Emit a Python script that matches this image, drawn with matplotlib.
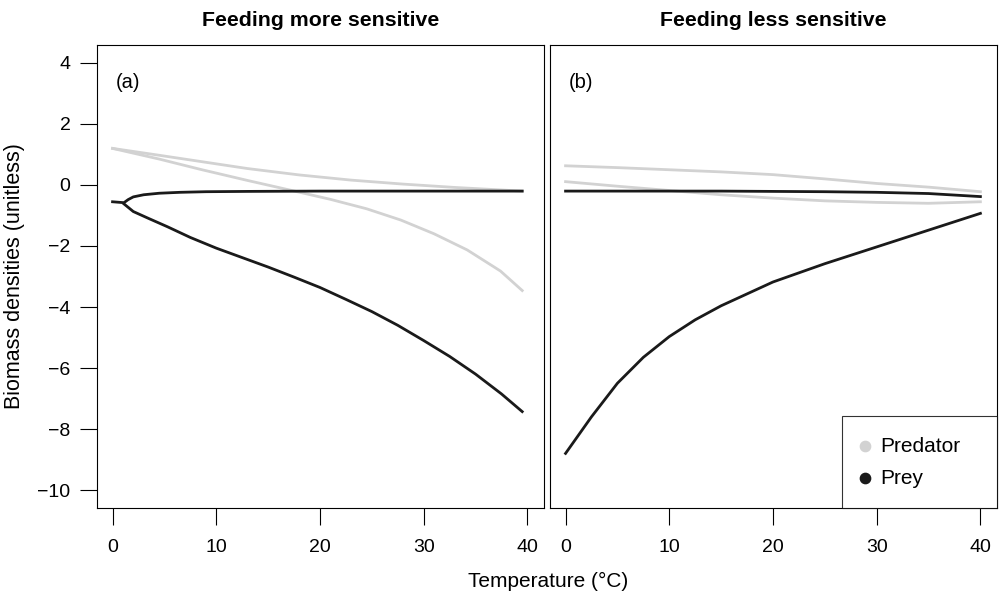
import numpy as np
import matplotlib.pyplot as plt

plt.rcParams['font.family'] = ['Liberation Sans', 'DejaVu Sans']

# panel (a): feeding more sensitive
temp_a_pred_up = [0, 4, 8.5, 13, 18, 23, 28, 33, 39.5]
pred_a_upper = [1.2, 1.0, 0.77, 0.54, 0.33, 0.16, 0.03, -0.08, -0.2]
temp_a_pred_low = [0, 4.5, 8.5, 13, 17.8, 21, 24.5, 27.8, 31, 34.2, 37.4, 39.5]
pred_a_lower = [1.2, 0.85, 0.51, 0.15, -0.22, -0.47, -0.78, -1.15, -1.6, -2.13, -2.82, -3.46]
temp_a_prey_up = [0, 1.1, 1.5, 2, 3, 4.5, 6.5, 9, 13, 20, 30, 39.5]
prey_a_upper = [-0.55, -0.58, -0.48, -0.39, -0.32, -0.27, -0.24, -0.22, -0.21, -0.2, -0.2, -0.2]
temp_a_prey_low = [1.1, 2, 3.5, 5.3, 7.5, 10, 12.5, 15, 17.5, 20, 22.5, 25, 27.5, 30, 32.5, 35, 37.5, 39.5]
prey_a_lower = [-0.62, -0.87, -1.1, -1.37, -1.72, -2.07, -2.38, -2.69, -3.02, -3.36, -3.75, -4.15,
                -4.6, -5.1, -5.62, -6.2, -6.85, -7.43]

# panel (b): feeding less sensitive
temp_b = [0, 5, 10, 15, 20, 25, 30, 35, 40]
pred_b_upper = [0.63, 0.57, 0.5, 0.43, 0.34, 0.2, 0.05, -0.07, -0.22]
pred_b_lower = [0.11, -0.04, -0.18, -0.32, -0.43, -0.52, -0.57, -0.6, -0.55]
prey_b_upper = [-0.2, -0.2, -0.2, -0.2, -0.21, -0.22, -0.24, -0.28, -0.38]
temp_b_prey_low = [0, 2.5, 5, 7.5, 10, 12.5, 15, 20, 25, 30, 35, 40]
prey_b_lower = [-8.8, -7.6, -6.5, -5.65, -4.97, -4.42, -3.96, -3.18, -2.58, -2.03, -1.48, -0.93]

titles = ['Feeding more sensitive', 'Feeding less sensitive']
panel_labels = ['(a)', '(b)']
xticks = [0, 10, 20, 30, 40]
yticks = [4, 2, 0, -2, -4, -6, -8, -10]

pred_col = '#d2d2d2'
prey_col = '#1a1a1a'
lw = 2.0

fig = plt.figure(figsize=(9.99, 6.02), dpi=100)
ax1 = fig.add_axes([97/999, 1-508/602, 447/999, 463/602])
ax2 = fig.add_axes([550/999, 1-508/602, 447/999, 463/602])

ax1.plot(temp_a_pred_up, pred_a_upper, color=pred_col, lw=lw)
ax1.plot(temp_a_pred_low, pred_a_lower, color=pred_col, lw=lw)
ax1.plot(temp_a_prey_up, prey_a_upper, color=prey_col, lw=lw)
ax1.plot(temp_a_prey_low, prey_a_lower, color=prey_col, lw=lw)

ax2.plot(temp_b, pred_b_upper, color=pred_col, lw=lw)
ax2.plot(temp_b, pred_b_lower, color=pred_col, lw=lw)
ax2.plot(temp_b, prey_b_upper, color=prey_col, lw=lw)
ax2.plot(temp_b_prey_low, prey_b_lower, color=prey_col, lw=lw)

for i, ax in enumerate([ax1, ax2]):
    ax.set_xlim(-1.5, 41.6)
    ax.set_ylim(-10.59, 4.59)
    ax.set_xticks(xticks)
    ax.tick_params(axis='both', direction='out', length=12, width=0.8, labelsize=14)
    ax.tick_params(axis='x', pad=10)
    ax.tick_params(axis='y', pad=7)
    ax.set_title(titles[i], fontsize=15.3, fontweight='bold', pad=14)
    ax.text(0.0425, 0.92, panel_labels[i], transform=ax.transAxes, fontsize=14.5, va='center')
    for s in ax.spines.values():
        s.set_linewidth(0.8)

ax1.set_yticks(yticks)
ax1.set_yticklabels([str(v).replace('-', '\u2212') for v in yticks])
ax1.set_ylabel('Biomass densities (unitless)', fontsize=15.5)
ax1.yaxis.set_label_coords(-0.161, 0.5)
ax2.set_yticks([])

ax2.scatter([], [], s=55, color=pred_col, label='Predator')
ax2.scatter([], [], s=55, color=prey_col, label='Prey')
leg = ax2.legend(loc='lower left', bbox_to_anchor=(0.653, 0, 0.347, 0.2), mode='expand',
                 fontsize=15, frameon=True, fancybox=False, borderaxespad=0,
                 handletextpad=0.6, borderpad=0.98, labelspacing=0.62, handlelength=0.25)
leg.get_frame().set_edgecolor('black')
leg.get_frame().set_linewidth(0.8)

fig.text(548/999, 1-581/602, 'Temperature (\u00b0C)', fontsize=15, ha='center', va='center')

fig.savefig('out.png', dpi=100)
